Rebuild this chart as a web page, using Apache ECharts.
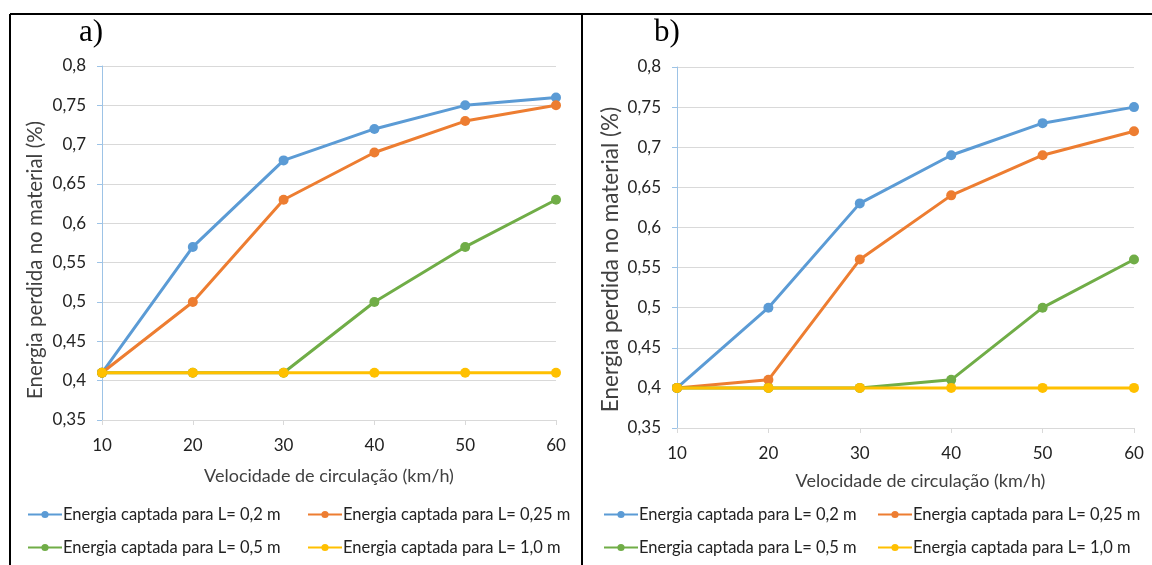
<!DOCTYPE html>
<html><head><meta charset="utf-8">
<script src="https://cdn.jsdelivr.net/npm/echarts@6/dist/echarts.min.js"></script>
<style>html,body{margin:0;padding:0;background:#fff}#c{width:1152px;height:565px}</style>
</head><body><div id="c"></div>
<script>
const categories = ['10','20','30','40','50','60'];
const seriesNames = ['Energia captada para L= 0,2 m','Energia captada para L= 0,25 m','Energia captada para L= 0,5 m','Energia captada para L= 1,0 m'];
const aL02  = [0.41, 0.57, 0.68, 0.72, 0.75, 0.76];
const aL025 = [0.41, 0.50, 0.63, 0.69, 0.73, 0.75];
const aL05  = [0.41, 0.41, 0.41, 0.50, 0.57, 0.63];
const aL10  = [0.41, 0.41, 0.41, 0.41, 0.41, 0.41];
const bL02  = [0.40, 0.50, 0.63, 0.69, 0.73, 0.75];
const bL025 = [0.40, 0.41, 0.56, 0.64, 0.69, 0.72];
const bL05  = [0.40, 0.40, 0.40, 0.41, 0.50, 0.56];
const bL10  = [0.40, 0.40, 0.40, 0.40, 0.40, 0.40];
const panelTitles = ['a)','b)'];
const xName = 'Velocidade de circulação (km/h)';
const yName = 'Energia perdida no material (%)';

const colors = ['#5B9BD5','#ED7D31','#70AD47','#FFC000'];
const font = 'Lato';
const chart = echarts.init(document.getElementById('c'));
const grids = [
  {left:102, right:596, top:66, bottom:145},
  {left:677, right:18, top:67, bottom:137}
];
const xNamePad = [[0,0,0,0],[0,0,0,30]];
const xNameGap = [47,44];
const yNameStyle = [{size:20.5,pad:[0,34,0,0],gap:56},{size:22.5,pad:[0,24,0,0],gap:55}];
function xAxis(i){return {type:'category', gridIndex:i, data:categories, boundaryGap:false,
  name:xName, nameLocation:'middle', nameGap:xNameGap[i], nameTextStyle:{fontFamily:font,fontSize:18,color:'#404040',padding:xNamePad[i]},
  axisLine:{lineStyle:{color:'#D9D9D9',width:1}}, axisTick:{show:true,alignWithLabel:true,length:5,lineStyle:{color:'#D9D9D9'}},
  axisLabel:{fontFamily:font,fontSize:17,color:'#222',margin:17}, splitLine:{show:false}};}
function yAxis(i){return {type:'value', gridIndex:i, min:0.35, max:0.8, interval:0.05,
  name:yName, nameLocation:'middle', nameGap:yNameStyle[i].gap, nameTextStyle:{fontFamily:font,fontSize:yNameStyle[i].size,color:'#404040',padding:yNameStyle[i].pad},
  axisLine:{show:true,lineStyle:{color:'#9DC3E6',width:1}}, axisTick:{show:true,length:5,lineStyle:{color:'#9DC3E6'}},
  axisLabel:{fontFamily:font,fontSize:17,color:'#222',margin:16,formatter:v=>String(+v.toFixed(2)).replace('.',',')},
  splitLine:{lineStyle:{color:'#D9D9D9',width:1}}};}
const data = [[aL02,aL025,aL05,aL10],[bL02,bL025,bL05,bL10]];
const series = [];
data.forEach((set,g)=>set.forEach((vals,k)=>series.push({
  type:'line', name:seriesNames[k], xAxisIndex:g, yAxisIndex:g, data:vals,
  symbol:'circle', symbolSize:10, color:colors[k], lineStyle:{width:3,color:colors[k]},
  itemStyle:{color:colors[k]}, z:2+k, animation:false
})));
const legendPos = [[27,506],[307,506],[27,539],[307,539],[603,506],[877,506],[603,539],[877,539]];
const legends = legendPos.map((p,i)=>({left:p[0], top:p[1], padding:0, data:[seriesNames[i%4]], itemWidth:34, itemHeight:9, itemGap:0,
  textStyle:{fontFamily:font,fontSize:16.5,color:'#222',padding:[0,0,0,-4]}, selectedMode:false}));
chart.setOption({
  animation:false,
  grid:grids,
  xAxis:[xAxis(0),xAxis(1)],
  yAxis:[yAxis(0),yAxis(1)],
  legend:legends,
  series:series,
  graphic:[
    {type:'line',shape:{x1:10,y1:14,x2:1152,y2:14},style:{stroke:'#000',lineWidth:2}},
    {type:'line',shape:{x1:10,y1:14,x2:10,y2:565},style:{stroke:'#000',lineWidth:2}},
    {type:'line',shape:{x1:582,y1:14,x2:582,y2:565},style:{stroke:'#000',lineWidth:2}},
    {type:'text',left:79,top:17,style:{text:panelTitles[0],font:'31px "Liberation Serif"',fill:'#000'}},
    {type:'text',left:654,top:17,style:{text:panelTitles[1],font:'31px "Liberation Serif"',fill:'#000'}}
  ]
});
</script></body></html>
